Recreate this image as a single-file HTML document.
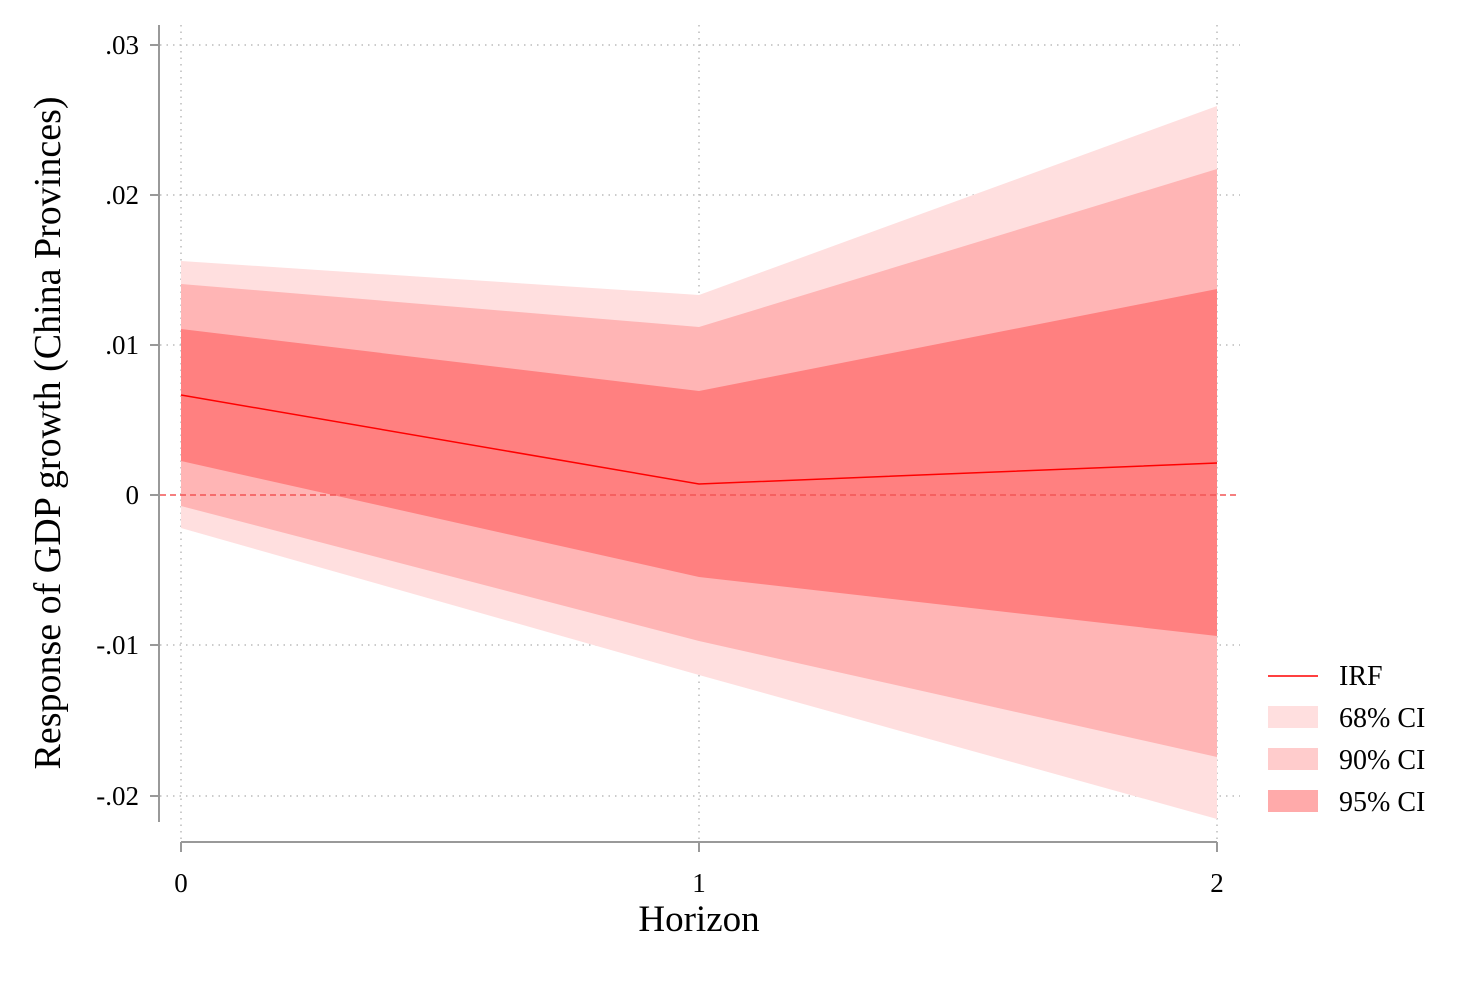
<!DOCTYPE html>
<html><head><style>body{margin:0;background:#fff}svg{display:block}text{font-family:"Liberation Serif",serif;fill:#000}</style></head><body>
<svg width="1478" height="987" viewBox="0 0 1478 987">
<g stroke="#bbb" stroke-width="1.5" stroke-dasharray="1.5,5">
<line x1="160" y1="45" x2="1240" y2="45"/><line x1="160" y1="195" x2="1240" y2="195"/><line x1="160" y1="345" x2="1240" y2="345"/><line x1="160" y1="645" x2="1240" y2="645"/><line x1="160" y1="796" x2="1240" y2="796"/>
<line x1="181" y1="25" x2="181" y2="842"/><line x1="699" y1="25" x2="699" y2="842"/><line x1="1217" y1="25" x2="1217" y2="842"/>
</g>
<polygon points="181,261 699,295 1217,106 1217,819 699,675 181,528" fill="#ffdfdf"/>
<polygon points="181,284 699,327 1217,169 1217,757 699,641 181,506" fill="#ffb5b5"/>
<polygon points="181,329 699,391 1217,289 1217,636 699,577 181,461" fill="#ff8080"/>
<polyline points="181,395 699,484 1217,463" fill="none" stroke="#ff0000" stroke-width="1.5"/>
<line x1="160" y1="495" x2="1240" y2="495" stroke="#f25555" stroke-width="1.5" stroke-dasharray="6,4"/>
<g stroke="#999" stroke-width="2" fill="none">
<line x1="159" y1="25" x2="159" y2="822"/>
<line x1="150" y1="45" x2="159" y2="45"/><line x1="150" y1="195" x2="159" y2="195"/><line x1="150" y1="345" x2="159" y2="345"/><line x1="150" y1="495" x2="159" y2="495"/><line x1="150" y1="645" x2="159" y2="645"/><line x1="150" y1="796" x2="159" y2="796"/>
<line x1="181" y1="842" x2="1217" y2="842"/>
<line x1="181" y1="842" x2="181" y2="852"/><line x1="699" y1="842" x2="699" y2="852"/><line x1="1217" y1="842" x2="1217" y2="852"/>
</g>
<g font-size="27" text-anchor="end">
<text x="139" y="54">.03</text><text x="139" y="204">.02</text><text x="139" y="354">.01</text><text x="139" y="504">0</text><text x="139" y="654">-.01</text><text x="139" y="805">-.02</text>
</g>
<g font-size="27" text-anchor="middle">
<text x="181" y="892">0</text><text x="699" y="892">1</text><text x="1217" y="892">2</text>
</g>
<text x="699" y="931" font-size="37" text-anchor="middle">Horizon</text>
<text transform="translate(60,433) rotate(-90)" font-size="38" text-anchor="middle">Response of GDP growth (China Provinces)</text>
<line x1="1268" y1="676" x2="1318" y2="676" stroke="#ff0000" stroke-width="1.5"/>
<rect x="1268" y="706" width="50" height="22" fill="#ffdfdf"/>
<rect x="1268" y="748" width="50" height="22" fill="#ffcccc"/>
<rect x="1268" y="790" width="50" height="22" fill="#ffaaaa"/>
<g font-size="28"><text x="1339" y="685">IRF</text><text x="1339" y="727">68% CI</text><text x="1339" y="769">90% CI</text><text x="1339" y="811">95% CI</text></g>
</svg>
</body></html>
